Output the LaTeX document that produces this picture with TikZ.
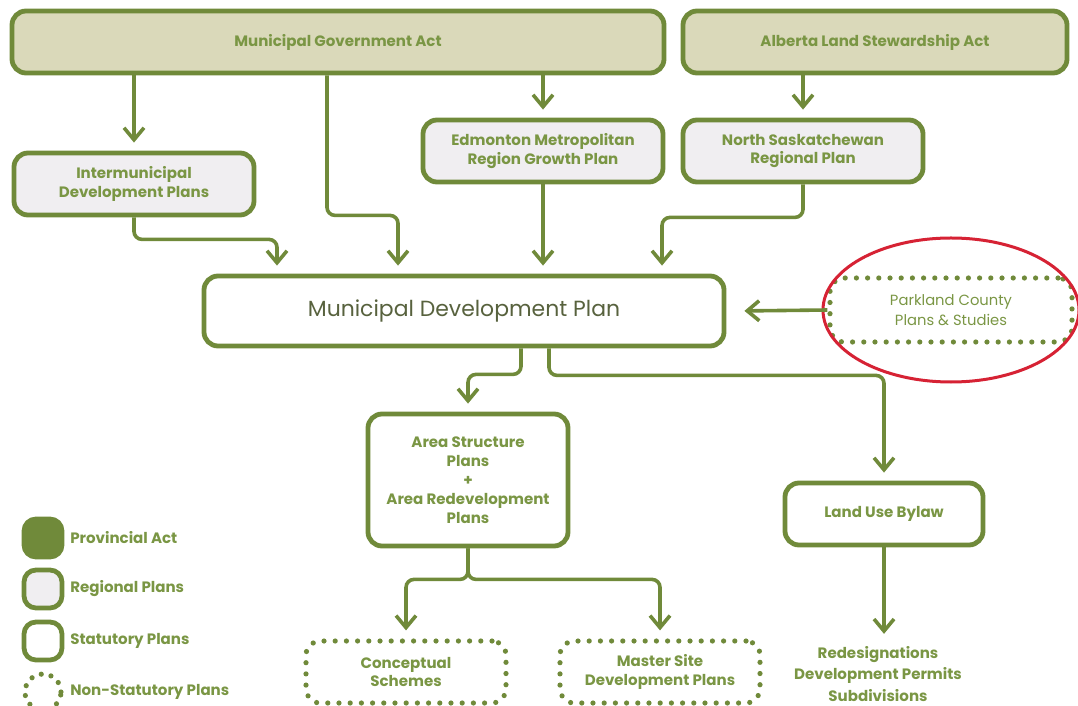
\documentclass[tikz,border=0pt]{standalone}
\usepackage{fontspec}
\setmainfont{Poppins}
\usetikzlibrary{arrows.meta}
\definecolor{pgreen}{RGB}{112,138,58}
\definecolor{ptext}{RGB}{122,150,68}
\definecolor{pdark}{RGB}{88,98,62}
\definecolor{pact}{RGB}{218,217,186}
\definecolor{preg}{RGB}{240,238,241}
\definecolor{pred}{RGB}{214,34,52}
\begin{document}
\begin{tikzpicture}[x=0.25mm,y=-0.25mm,
  every node/.style={font=\bfseries\fontsize{10.7}{13.5}\selectfont,text=ptext,align=center},
  box/.style={draw=pgreen,line width=1.2mm,rounded corners=3.5mm,minimum height=15.5mm},
  act/.style={box,fill=pact},
  regional/.style={box,fill=preg},
  statutory/.style={box,fill=white},
  nonstat/.style={draw=pgreen,line width=1.3mm,dash pattern=on 0pt off 2.8mm,line cap=round,rounded corners=3.5mm,minimum height=15.5mm},
  arr/.style={draw=pgreen,line width=0.9mm,rounded corners=2mm,shorten >=2mm,-{Straight Barb[length=3mm,width=5mm]}}]
\useasboundingbox (0,0) rectangle (1078,706);
% acts
\node[act,minimum width=163mm] (mga) at (338,42) {Municipal Government Act};
\node[act,minimum width=96mm] (alsa) at (875,42) {Alberta Land Stewardship Act};
% regional plans
\node[regional,minimum width=60mm] (idp) at (134,184) {Intermunicipal\\Development Plans};
\node[regional,minimum width=60mm] (emr) at (543,151) {Edmonton Metropolitan\\Region Growth Plan};
\node[regional,minimum width=60mm] (nsrp) at (803,151) {North Saskatchewan\\Regional Plan};
% statutory plans
\node[statutory,minimum width=130mm,minimum height=17.5mm,font=\fontsize{15.6}{18}\selectfont,text=pdark] (mdp) at (464,311) {Municipal Development Plan};
\node[statutory,minimum width=50mm,minimum height=33mm] (asp) at (468,480) {Area Structure\\Plans\\+\\Area Redevelopment\\Plans};
\node[statutory,minimum width=49.5mm] (lub) at (884,514) {Land Use Bylaw};
% non-statutory plans
\node[nonstat,minimum width=60.5mm,minimum height=16mm,font=\fontsize{10.5}{14.5}\selectfont] (park) at (951,310) {Parkland County\\Plans \& Studies};
\node[nonstat,minimum width=50mm] (cs) at (406,672) {Conceptual\\Schemes};
\node[nonstat,minimum width=50mm] (msdp) at (660,672) {Master Site\\Development Plans};
\node[font=\bfseries\fontsize{10.7}{15}\selectfont] (out) at (878,674) {Redesignations\\Development Permits\\Subdivisions};
\draw[pred,line width=0.75mm] (park) ellipse [x radius=32mm,y radius=18mm];
% connectors
\draw[arr] (mga.south -| idp.north) -- (idp.north);
\draw[arr] ([xshift=-2.75mm]mga.south) -- ++(0,140) -| ([xshift=-16.5mm]mdp.north);
\draw[arr] (mga.south -| emr.north) -- (emr.north);
\draw[arr] (alsa.south -| nsrp.north) -- (nsrp.north);
\draw[arr] (idp.south) -- ++(0,22) -| ([xshift=-46.75mm]mdp.north);
\draw[arr] (emr.south) -- (emr.south |- mdp.north);
\draw[arr] (nsrp.south) -- ++(0,33) -| ([xshift=49.5mm]mdp.north);
\draw[arr] (park.west) -- ([xshift=2.5mm]mdp.east);
\draw[arr] ([xshift=14.25mm]mdp.south) -- ++(0,26) -| (asp.north);
\draw[arr] ([xshift=21.25mm]mdp.south) -- ++(0,27) -| (lub.north);
\draw[arr] (asp.south) -- ++(0,31) -| (cs.north);
\draw[arr] (asp.south) -- ++(0,31) -| (msdp.north);
\draw[arr] (lub.south) -- (lub.south |- out.north);
% legend
\foreach \i/\s/\y/\t in {1/pgreen/538/Provincial Act,2/preg/589/Regional Plans,3/white/641/Statutory Plans}{
  \node[box,fill=\s,minimum size=9.5mm,rounded corners=3mm] (k\i) at (43,\y) {};
  \node[anchor=west,inner sep=0pt] (l\i) at (70,\y) {\t};
}
\node[circle,draw=pgreen,line width=1.3mm,dash pattern=on 0pt off 2.5mm,line cap=round,minimum size=9mm] (k4) at (43,692) {};
\node[anchor=west,inner sep=0pt] (l4) at (70,692) {Non-Statutory Plans};
\end{tikzpicture}
\end{document}
